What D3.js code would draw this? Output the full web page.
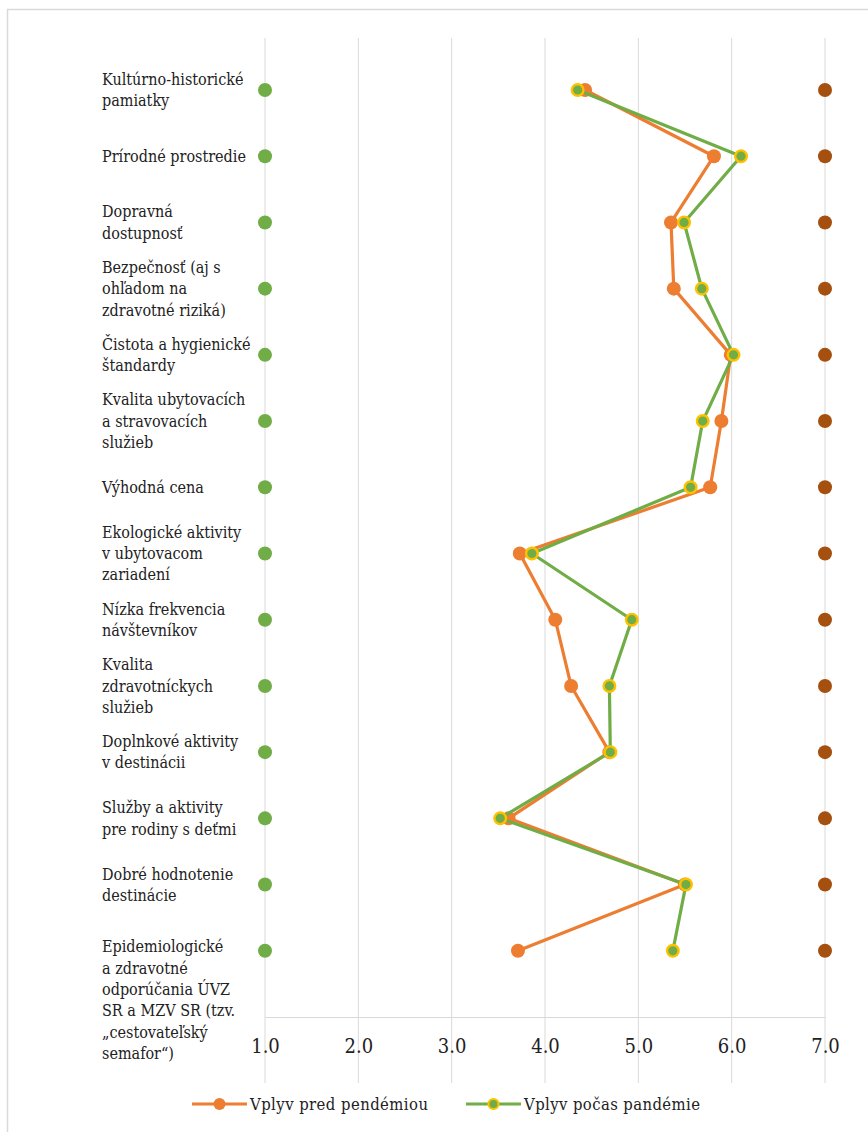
<!DOCTYPE html>
<html><head><meta charset="utf-8">
<script src="https://cdn.jsdelivr.net/npm/d3@7"></script>
<style>body{margin:0;background:#fff}svg{display:block}</style>
</head><body>
<script>
const categories = [
  "Kultúrno-historické\npamiatky",
  "Prírodné prostredie",
  "Dopravná\ndostupnosť",
  "Bezpečnosť (aj s\nohľadom na\nzdravotné riziká)",
  "Čistota a hygienické\nštandardy",
  "Kvalita ubytovacích\na stravovacích\nslužieb",
  "Výhodná cena",
  "Ekologické  aktivity\nv ubytovacom\nzariadení",
  "Nízka frekvencia\nnávštevníkov",
  "Kvalita\nzdravotníckych\nslužieb",
  "Doplnkové  aktivity\nv destinácii",
  "Služby  a aktivity\npre rodiny  s deťmi",
  "Dobré hodnotenie\ndestinácie",
  "Epidemiologické\na zdravotné\nodporúčania ÚVZ\nSR a MZV SR (tzv.\n„cestovateľský\nsemafor“)"
];
const seriesPred  = [4.43, 5.81, 5.35, 5.38, 5.99, 5.89, 5.77, 3.73, 4.11, 4.28, 4.69, 3.61, 5.50, 3.71];
const seriesPocas = [4.35, 6.10, 5.49, 5.68, 6.02, 5.69, 5.56, 3.86, 4.93, 4.69, 4.70, 3.52, 5.51, 5.37];
const minScale = categories.map(() => 1);
const maxScale = categories.map(() => 7);
const xTicks = [1, 2, 3, 4, 5, 6, 7];
const legendLabels = ["Vplyv pred pendémiou", "Vplyv počas pandémie"];

const W = 868, H = 1132;
const svg = d3.select("body").append("svg").attr("width", W).attr("height", H);
const serif = "DejaVu Serif Condensed, DejaVu Serif, serif";

svg.append("rect").attr("x", 7.5).attr("y", 9.5).attr("width", 880).attr("height", 1140)
  .attr("fill", "none").attr("stroke", "#d9d9d9").attr("stroke-width", 1.5);

const x = d3.scaleLinear().domain([1, 7]).range([265, 825]);
const y = d3.scaleLinear().domain([0, 14]).range([1017, 90]);
const idx = d3.range(1, categories.length + 1).reverse();

svg.append("g").selectAll("line").data(xTicks).join("line")
  .attr("x1", d => x(d)).attr("x2", d => x(d))
  .attr("y1", 38).attr("y2", 1083)
  .attr("stroke", "#d9d9d9").attr("stroke-width", 1);

const xAxis = d3.axisBottom(x).tickValues(xTicks).tickFormat(d3.format(".1f")).tickSize(0).tickPadding(22);
const gx = svg.append("g").attr("transform", `translate(0,${y(0)})`).call(xAxis);
gx.attr("font-family", serif).attr("font-stretch", "condensed");
gx.select(".domain").attr("stroke", "#d9d9d9").attr("stroke-width", 1);
gx.selectAll("text").attr("font-size", 20).attr("fill", "#222");

const lh = 21.3;
const labels = svg.append("g").attr("font-size", 16).attr("fill", "#222")
  .attr("font-family", serif).attr("font-stretch", "condensed");
categories.forEach((c, i) => {
  const lines = c.split("\n");
  const n = lines.length;
  const cy = y(idx[i]);
  const first = n <= 3 ? cy - (n - 1) / 2 * lh : cy - 4;
  const t = labels.append("text").attr("x", 102).attr("y", first);
  lines.forEach((l, k) => {
    t.append("tspan").attr("x", 102).attr("y", first + k * lh).attr("dy", "0.35em").text(l);
  });
});

svg.append("g").selectAll("circle").data(minScale).join("circle")
  .attr("cx", d => x(d)).attr("cy", (d, i) => y(idx[i])).attr("r", 7).attr("fill", "#70ad47");
svg.append("g").selectAll("circle").data(maxScale).join("circle")
  .attr("cx", d => x(d)).attr("cy", (d, i) => y(idx[i])).attr("r", 7).attr("fill", "#a5500f");

const line = d3.line().x(d => x(d[0])).y(d => y(d[1]));
function drawSeries(vals, color, markerFill, markerStroke) {
  const pts = vals.map((v, i) => [v, idx[i]]);
  svg.append("path").datum(pts).attr("d", line).attr("fill", "none")
    .attr("stroke", color).attr("stroke-width", 3.2).attr("stroke-linejoin", "round");
  svg.append("g").selectAll("circle").data(pts).join("circle")
    .attr("cx", d => x(d[0])).attr("cy", d => y(d[1]))
    .attr("r", markerStroke ? 5.8 : 7).attr("fill", markerFill)
    .attr("stroke", markerStroke || "none").attr("stroke-width", markerStroke ? 2.4 : 0);
}
drawSeries(seriesPred, "#ed7d31", "#ed7d31", null);
drawSeries(seriesPocas, "#70ad47", "#70ad47", "#ffc000");

const legend = svg.append("g").attr("font-size", 16.5).attr("fill", "#222")
  .attr("font-family", serif).attr("font-stretch", "condensed");
const legendItems = [
  {label: legendLabels[0], color: "#ed7d31", stroke: null, x0: 192, w: 178},
  {label: legendLabels[1], color: "#70ad47", stroke: "#ffc000", x0: 466, w: 176}
];
legendItems.forEach(it => {
  const ly = 1104;
  legend.append("line").attr("x1", it.x0).attr("x2", it.x0 + 55).attr("y1", ly).attr("y2", ly)
    .attr("stroke", it.color).attr("stroke-width", 3.2);
  legend.append("circle").attr("cx", it.x0 + 27.5).attr("cy", ly).attr("r", it.stroke ? 5 : 6)
    .attr("fill", it.color).attr("stroke", it.stroke || "none").attr("stroke-width", it.stroke ? 2.2 : 0);
  legend.append("text").attr("x", it.x0 + 58).attr("y", ly).attr("dy", "0.35em")
    .attr("textLength", it.w).attr("lengthAdjust", "spacing").text(it.label);
});
</script>
</body></html>
